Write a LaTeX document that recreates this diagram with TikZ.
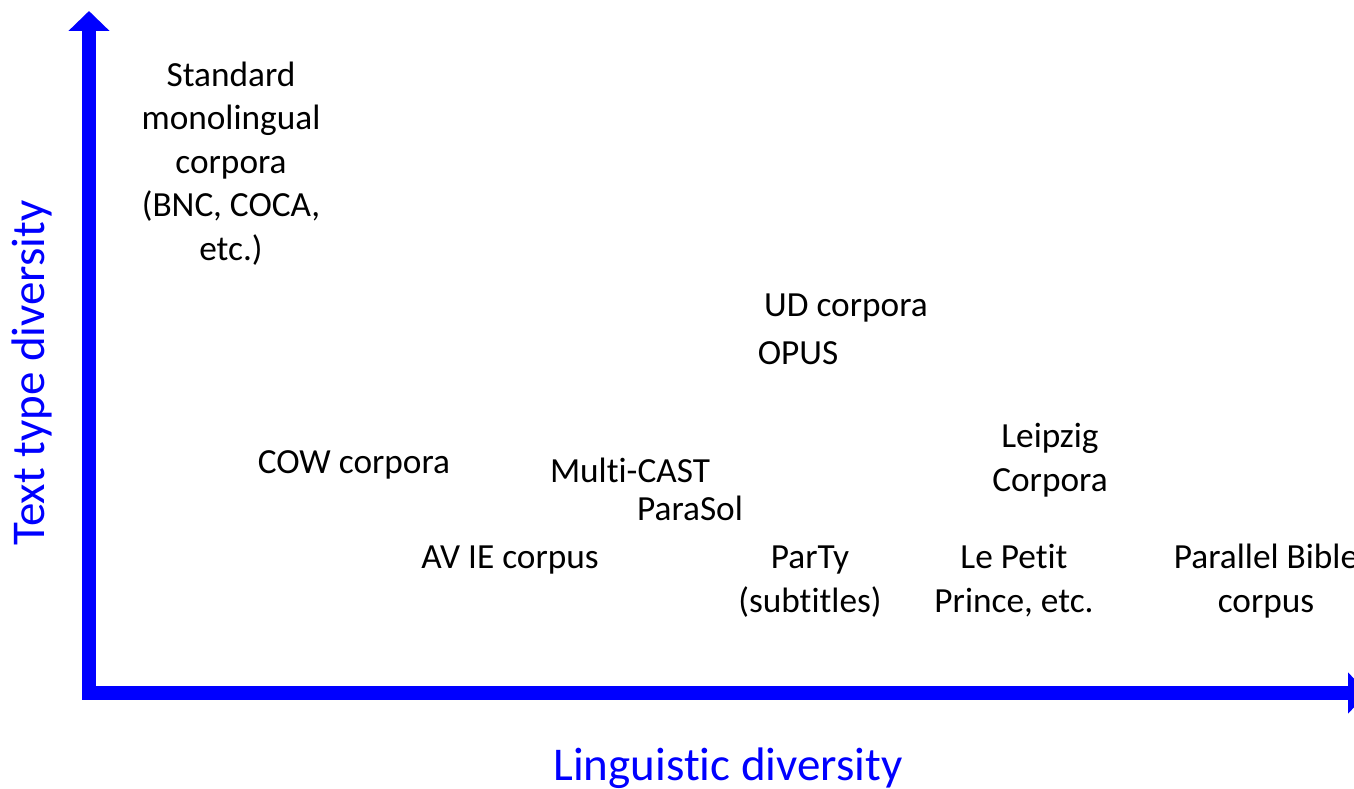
\documentclass[tikz,border=0pt]{standalone}
\usepackage{fontspec}
\setmainfont{Carlito}[Ligatures={NoCommon}]
\usetikzlibrary{arrows.meta}
\newcommand\tisep{\kern0pt }
\tikzset{
  lbl/.style={anchor=base, align=center, inner sep=0pt, font=\fontsize{35.3}{43.5}\selectfont},
  axlbl/.style={inner sep=0pt, text=blue, font=\fontsize{47}{56}\selectfont},
  axis/.style={draw=blue, line width=14pt, line cap=butt, -{Triangle[width=40pt,length=20pt]}}
}
\begin{document}
\begin{tikzpicture}[x=1pt,y=-1pt]
\useasboundingbox (0,0) rectangle (1354,789);
\coordinate (o1) at (89,697);
\coordinate (ytip) at (89,11);
\coordinate (o2) at (82,693);
\coordinate (xtip) at (1368,693);
\draw[axis] (o1) -- (ytip);
\draw[axis] (o2) -- (xtip);
\node[lbl] (std) at (231,260) {Standard\\monolingual\\corpora\\(BNC, COCA,\\etc.)};
\node[lbl] (ud) at (846,316) {UD corpora};
\node[lbl] (opus) at (798,364) {OPUS};
\node[lbl] (leip) at (1050,491) {Leipzig\\Corpora};
\node[lbl] (cow) at (354,473) {COW corpora};
\node[lbl] (mc) at (630,482) {Multi-CAST};
\node[lbl] (ps) at (690,520) {ParaSol};
\node[lbl] (av) at (510,568) {AV IE corpus};
\node[lbl] (party) at (810,612) {ParTy\\(subt\tisep itles)};
\node[lbl] (lpp) at (1014,612) {Le Pet\tisep it\\Prince, etc.};
\node[lbl] (pbc) at (1266,612) {Parallel Bible\\corpus};
\node[axlbl, rotate=90] (ylab) at (32,373) {Text type diversity};
\node[axlbl] (xlab) at (728,768) {Linguist\tisep ic diversity};
\end{tikzpicture}
\end{document}
